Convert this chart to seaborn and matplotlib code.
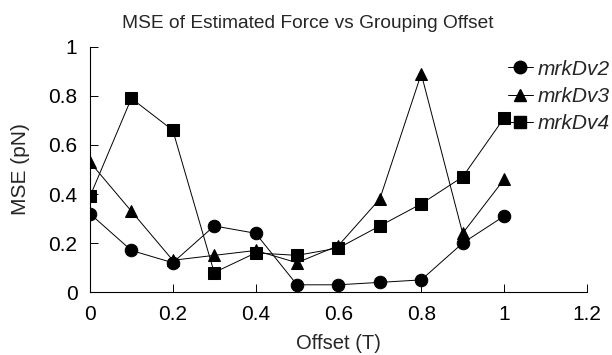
import matplotlib
matplotlib.use("Agg")
import matplotlib.pyplot as plt
import pandas as pd
import seaborn as sns
from matplotlib.ticker import FuncFormatter

offsets = [0.0, 0.1, 0.2, 0.3, 0.4, 0.5, 0.6, 0.7, 0.8, 0.9, 1.0]
mrk_dv2 = [0.32, 0.17, 0.12, 0.27, 0.24, 0.03, 0.03, 0.04, 0.05, 0.20, 0.31]
mrk_dv3 = [0.53, 0.33, 0.13, 0.15, 0.17, 0.12, 0.19, 0.38, 0.89, 0.24, 0.46]
mrk_dv4 = [0.39, 0.79, 0.66, 0.08, 0.16, 0.15, 0.18, 0.27, 0.36, 0.47, 0.71]
series_names = ["mrkDv2", "mrkDv3", "mrkDv4"]

df = pd.concat(
    [
        pd.DataFrame({"offset": offsets, "mse": vals, "series": name})
        for name, vals in zip(series_names, [mrk_dv2, mrk_dv3, mrk_dv4])
    ]
)

sns.set_style("ticks")
plt.rcParams["font.family"] = ["Liberation Sans", "DejaVu Sans"]

fig = plt.figure(figsize=(6.12, 3.55), dpi=100)
ax = fig.add_axes([0.147, 0.177, 0.812, 0.691])
sns.lineplot(
    data=df, x="offset", y="mse", style="series", markers=["o", "^", "s"],
    dashes=False, color="black", markersize=9, linewidth=0.7,
    markeredgecolor="black", ax=ax, legend=False,
)

ax.set_xlim(0, 1.2)
ax.set_ylim(0, 1)
ax.set_xticks([0, 0.2, 0.4, 0.6, 0.8, 1.0, 1.2])
ax.set_yticks([0, 0.2, 0.4, 0.6, 0.8, 1.0])
fmt = FuncFormatter(lambda v, p: f"{v:.1f}".rstrip("0").rstrip("."))
ax.xaxis.set_major_formatter(fmt)
ax.yaxis.set_major_formatter(fmt)
ax.tick_params(direction="in", length=6, width=0.7, labelsize=15,
               colors="black", pad=9)
for s in ["left", "bottom"]:
    ax.spines[s].set_linewidth(0.8)
    ax.spines[s].set_color("black")
sns.despine(ax=ax)

ax.set_xlabel("Offset (T)", fontsize=14.5)
ax.set_ylabel("MSE (pN)", fontsize=15)
ax.xaxis.set_label_coords(0.5, -0.172)
ax.yaxis.set_label_coords(-0.121, 0.5)
ax.set_title("MSE of Estimated Force vs Grouping Offset", fontsize=13.8,
             x=0.439, pad=13.5)

handles = [
    plt.Line2D([], [], color="black", marker=m, markersize=9, linewidth=0.7)
    for m in ["o", "^", "s"]
]
leg = ax.legend(
    handles, series_names, loc="upper left", bbox_to_anchor=(0.841, 0.948),
    frameon=False, handlelength=1.2, handletextpad=0.25, labelspacing=0.4,
    borderaxespad=0, borderpad=0, prop={"style": "italic", "size": 15},
)

plt.savefig("out.png", dpi=100)
